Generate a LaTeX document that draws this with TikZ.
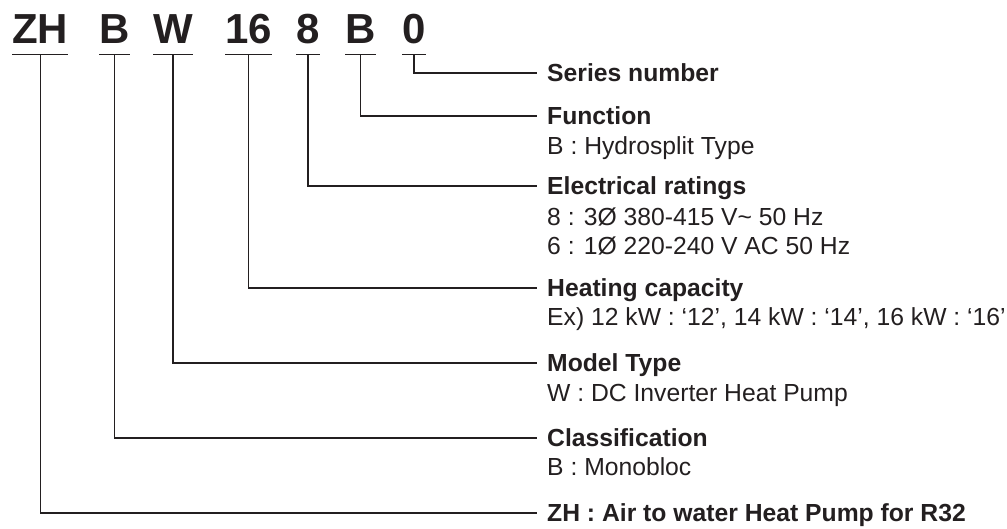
\documentclass[tikz,border=0pt]{standalone}
\usepackage{fontspec}
\setmainfont{Liberation Sans}
\usepackage{tikz}
\usetikzlibrary{positioning}
\definecolor{ink}{HTML}{231F20}

\begin{document}
\begin{tikzpicture}[
    x=1pt, y=-1pt,
    codeletter/.style={font=\bfseries\fontsize{42}{48}\selectfont, text=ink, anchor=base west,
      inner xsep=0pt, inner ysep=11pt, text depth=0pt},
    heading/.style={font=\bfseries\fontsize{24.7}{29}\selectfont, text=ink, anchor=west,
      inner xsep=10pt, inner ysep=0pt, text height=17.7pt, text depth=0pt},
    detail/.style={font=\fontsize{24.7}{29}\selectfont, text=ink,
      inner xsep=10pt, inner ysep=0pt},
    leader/.style={draw=ink, line width=1.3pt}
  ]
  \useasboundingbox (0,0) rectangle (1007,528);
  % model code
  \node[codeletter] (czh) at (12,43) {ZH};
  \node[codeletter] (cb1) at (99,43) {B};
  \node[codeletter] (cw) at (153,43) {W};
  \node[codeletter] (c16) at (225,43) {16};
  \node[codeletter] (c8) at (296,43) {8};
  \node[codeletter] (cb2) at (345,43) {B};
  \node[codeletter] (c0) at (402,43) {0};
  \foreach \c in {czh,cb1,cw,c16,c8,cb2,c0}
    \draw[leader] (\c.south west) -- (\c.south east);
  % meanings
  \node[heading] (hser) at (537,73) {Series number};
  \node[heading] (hfun) at (537,116) {Function};
  \node[detail, below=30pt of hfun.base west, anchor=base west] (dfun) {B : Hydrosplit Type};
  \node[heading] (hele) at (537,186) {Electrical ratings};
  \node[detail, below=31pt of hele.base west, anchor=base west] (dele1) {8 : 3Ø 380-415 V\textasciitilde{} 50 Hz};
  \node[detail, below=29pt of dele1.base west, anchor=base west] (dele2) {6 : 1Ø 220-240 V AC 50 Hz};
  \node[heading] (hcap) at (537,288) {Heating capacity};
  \node[detail, below=29pt of hcap.base west, anchor=base west] (dcap) {Ex) 12 kW : ‘12’, 14 kW : ‘14’, 16 kW : ‘16’};
  \node[heading] (hmod) at (537,363) {Model Type};
  \node[detail, below=30pt of hmod.base west, anchor=base west] (dmod) {W : DC Inverter Heat Pump};
  \node[heading] (hcls) at (537,438) {Classification};
  \node[detail, below=29pt of hcls.base west, anchor=base west] (dcls) {B : Monobloc};
  \node[heading] (hzh) at (537,513) {ZH : Air to water Heat Pump for R32};
  % leaders
  \foreach \c/\h in {c0/hser,cb2/hfun,c8/hele,c16/hcap,cw/hmod,cb1/hcls,czh/hzh}
    \draw[leader] (\c.south) |- (\h.west);
\end{tikzpicture}
\end{document}
